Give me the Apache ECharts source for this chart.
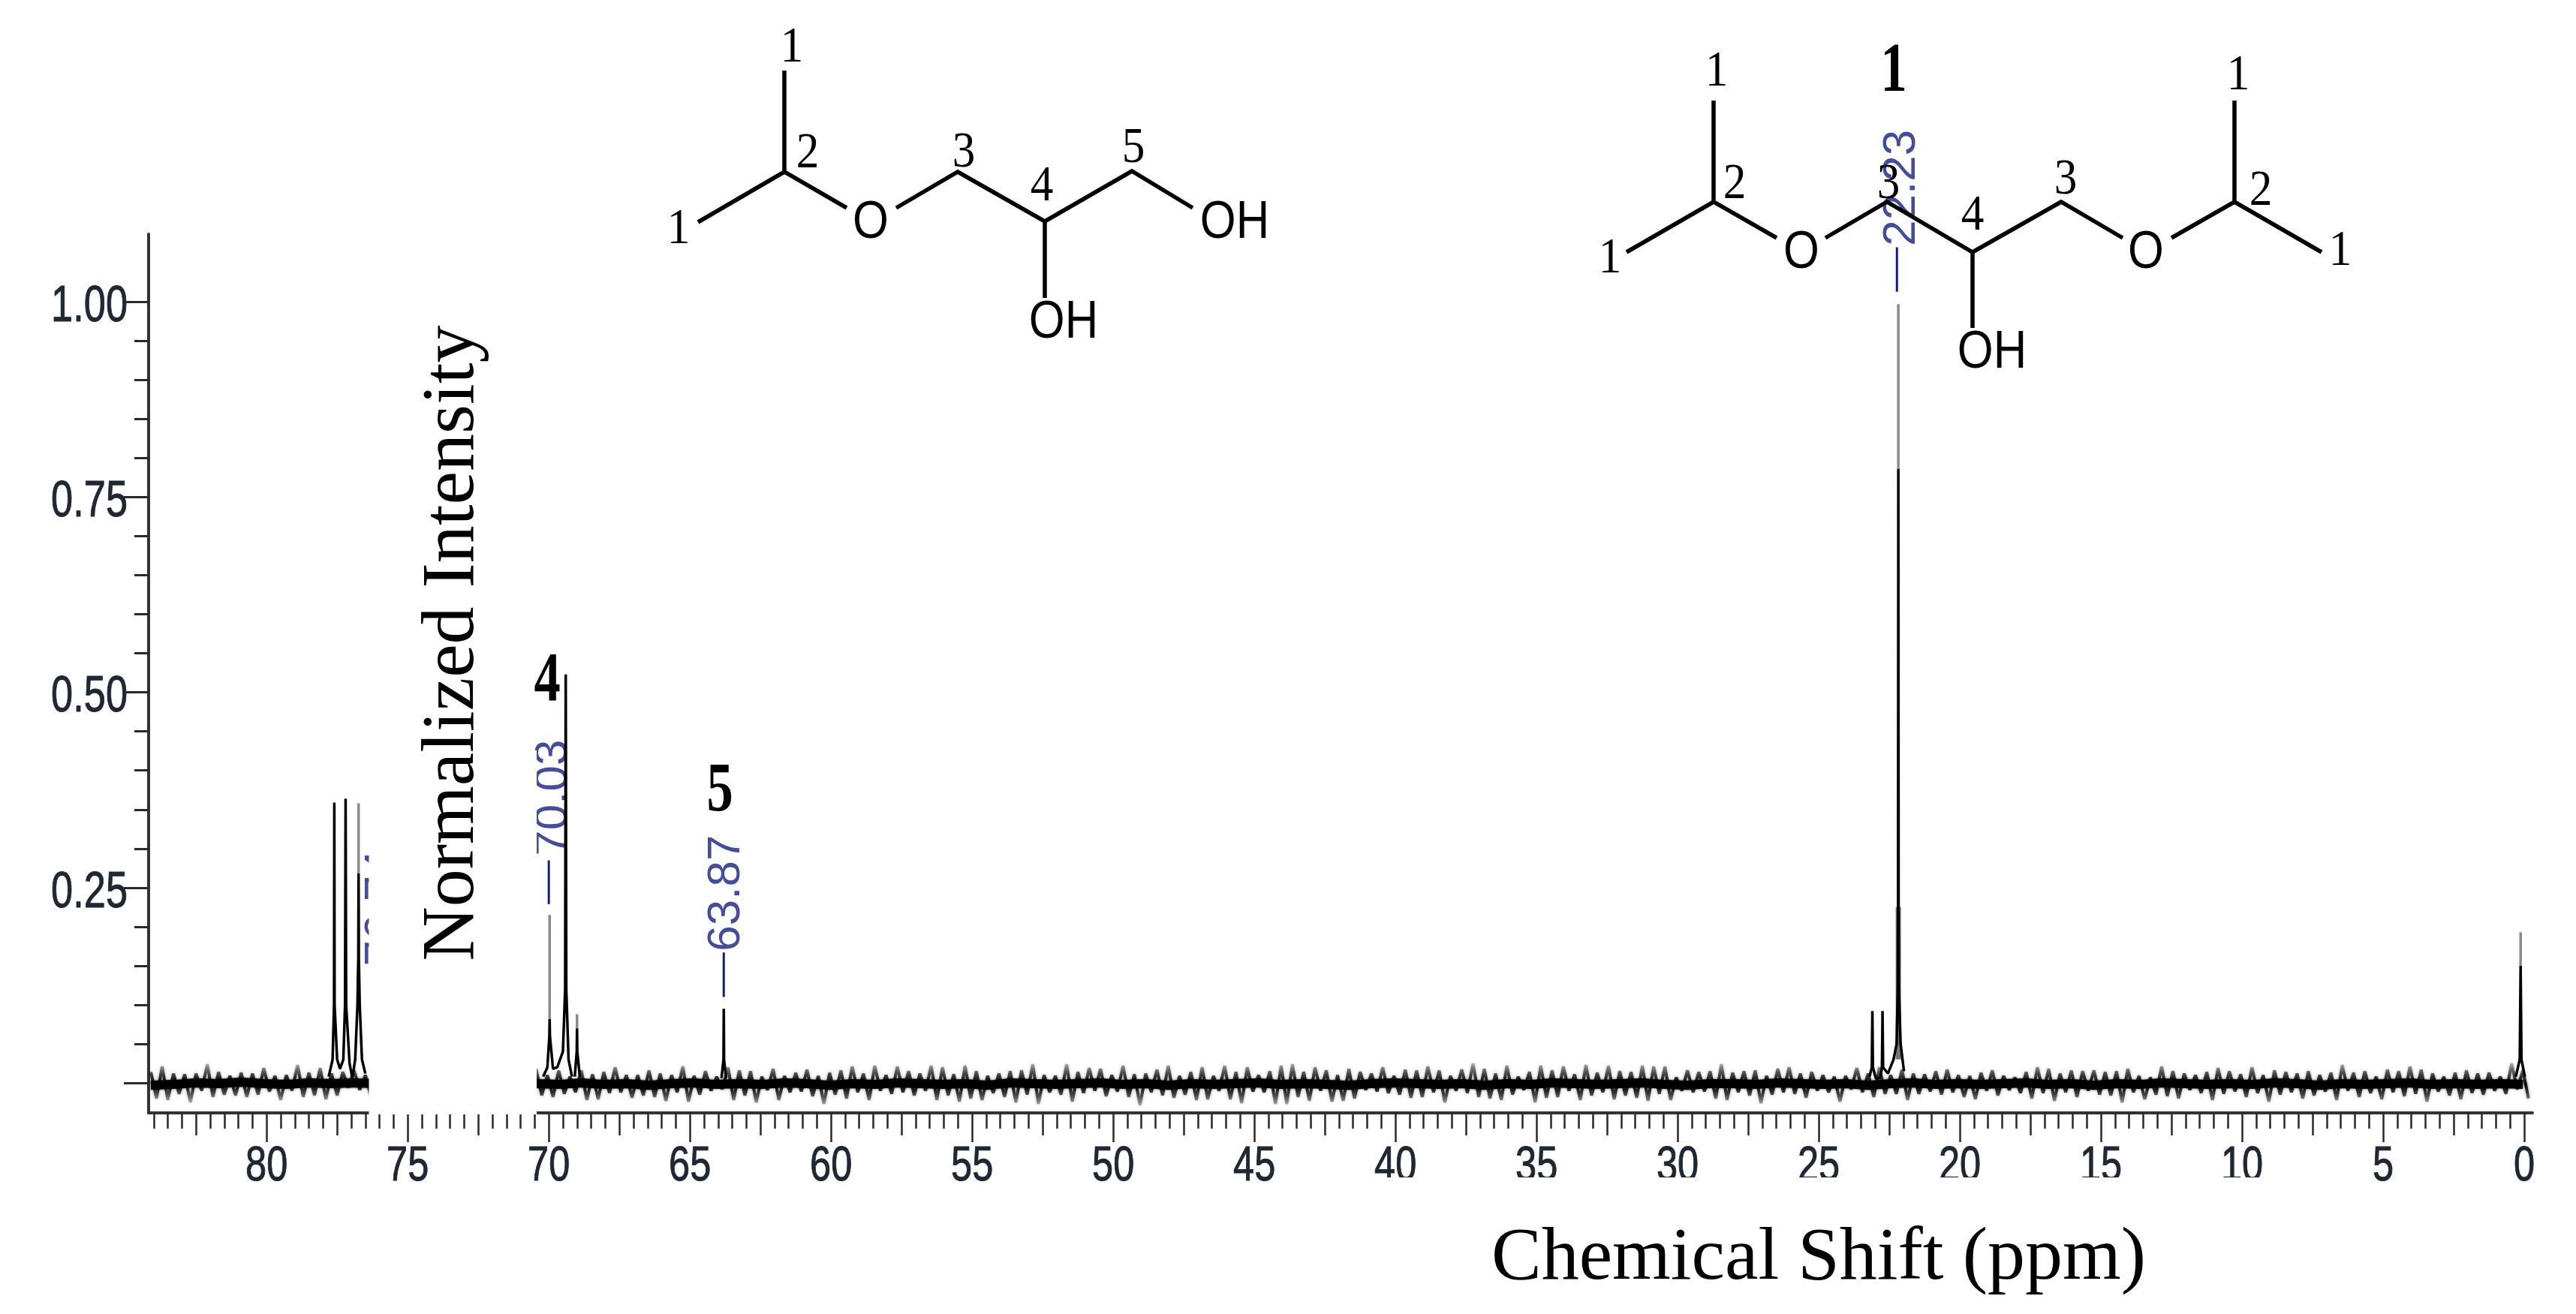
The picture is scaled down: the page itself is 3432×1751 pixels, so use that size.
<!DOCTYPE html>
<html>
<head>
<meta charset="utf-8">
<title>Chemical shift spectrum</title>
<style>
  html, body { margin: 0; padding: 0; background: #fff; }
  #chart { width: 3432px; height: 1751px; }
</style>
<script src="https://cdn.jsdelivr.net/npm/echarts@6/dist/echarts.min.js"></script>
</head>
<body>
<div id="chart"></div>
<script>
// axis ticks and labels
const xTickLabels = [80, 75, 70, 65, 60, 55, 50, 45, 40, 35, 30, 25, 20, 15, 10, 5, 0];
const xMidTicks = [82.5, 77.5, 72.5, 67.5, 62.5, 57.5, 52.5, 47.5, 42.5, 37.5, 32.5, 27.5, 22.5, 17.5, 12.5, 7.5, 2.5];
const yTickLabels = [0.25, 0.5, 0.75, 1];
const yMajorTicks = [0, 0.25, 0.5, 0.75, 1];
const yMinorTicks = [0.05, 0.1, 0.15, 0.2, 0.3, 0.35, 0.4, 0.45, 0.55, 0.6, 0.65, 0.7, 0.8, 0.85, 0.9, 0.95];

// baseline noise, in thousandths of intensity
// A: left of the pasted white box, B: right of it
const noiseTopA = [14, 21, 12, 11, 12, 24, 14, 9, 13, 12, 19, 9, 10, 23, 13, 19, 12, 14, 16, 10];
const noiseBottomA = [20, 22, 14, 25, 10, 18, 15, 16, 18, 15, 11, 22, 10, 18, 16, 21, 16, 6, 9, 17];
const noiseTopB = [
  18, 10, 16, 8, 16, 11, 14, 20, 10, 10, 16, 12, 10, 21, 9, 15, 8, 20, 16, 15,
  8, 18, 9, 13, 17, 9, 13, 16, 21, 12, 22, 10, 21, 15, 12, 22, 20, 11, 22, 15,
  9, 12, 15, 16, 24, 10, 9, 24, 14, 19, 18, 10, 22, 11, 12, 17, 22, 9, 14, 20,
  9, 22, 14, 20, 10, 15, 22, 24, 14, 20, 16, 10, 18, 14, 12, 20, 9, 17, 16, 21,
  16, 9, 17, 25, 18, 12, 22, 8, 14, 22, 16, 21, 11, 23, 13, 22, 15, 14, 22, 21,
  21, 7, 16, 14, 15, 24, 13, 15, 16, 9, 18, 20, 12, 14, 10, 8, 9, 19, 12, 20,
  10, 17, 12, 11, 15, 17, 10, 9, 13, 16, 9, 7, 14, 20, 18, 12, 16, 15, 16, 14,
  15, 18, 9, 7, 21, 15, 12, 10, 14, 19, 15, 11, 20, 10, 16, 14, 12, 15, 10, 13,
  23, 13, 15, 8, 17, 15, 21, 17, 12, 8, 13, 16, 12, 13, 8, 25, 16
];
const noiseBottomB = [
  16, 18, 14, 12, 22, 21, 13, 12, 19, 16, 18, 23, 12, 24, 15, 10, 8, 22, 16, 25,
  9, 22, 12, 11, 17, 27, 15, 20, 12, 22, 10, 14, 12, 16, 10, 22, 16, 24, 20, 22,
  13, 18, 25, 15, 27, 12, 15, 24, 13, 10, 17, 11, 18, 29, 12, 16, 19, 15, 22, 21,
  10, 21, 26, 11, 12, 27, 27, 18, 23, 10, 24, 23, 20, 9, 11, 13, 15, 19, 18, 12,
  25, 10, 13, 18, 20, 22, 15, 9, 25, 19, 18, 10, 22, 16, 12, 21, 16, 19, 23, 14,
  22, 10, 12, 11, 20, 22, 12, 16, 26, 15, 12, 14, 19, 10, 12, 24, 8, 12, 18, 14,
  14, 22, 14, 11, 15, 12, 18, 21, 10, 16, 9, 13, 20, 13, 23, 12, 18, 10, 15, 16,
  25, 12, 21, 15, 17, 20, 9, 13, 22, 14, 11, 18, 13, 24, 15, 12, 20, 16, 11, 22,
  10, 18, 13, 21, 12, 17, 14, 24, 11, 16, 21, 13, 15, 10, 14, 8, 20
];
// solid centre of the noise band
const noiseCoreA = [-3, -2, 0, -1, 1, -1, -2, 0, -1, 0, -1];
const noiseCoreB = [
  -1, -2, 0, -2, -1, -3, -1, 0, -2, -1, -2, 0, -1, -3, -1, -2, 0, -1, -2, -1,
  -3, 0, -1, -2, -1, 0, -2, -1, -3, -1, -2, -1, 0, -2, -1, -2, -3, -1, 0, -1,
  -2, -1, -3, -1, -2, 0, -1, -2, -1, 0, -2, -3, -1, -1, -2, 0, -1, -2, -1, -3,
  -1, 0, -2, -1, -2, -1, 0, -2, -1, -3, -1, -2, 0, -1, -2, -1, -2, 0, -1, -3,
  -1, -2, -1, 0, -2, -1, -2, -1, -2
];

// resonance lines: ppm and intensity of the dark part of each line, null breaks the trace
const tracePpm = [
  77.8, 77.66, 77.61, 77.6, 77.59, 77.5, 77.4, 77.28, 77.22, 77.2, 77.18, 77.06, 76.96, 76.86, 76.78, 76.75, 76.74, 76.73, 76.7, 76.62, 76.5, 76.5,
  70.2, 70.05, 69.98, 69.97, 69.96, 69.85, 69.7, 69.5, 69.42, 69.4, 69.38, 69.3, 69.18, 69.18,
  69.08, 69.01, 69, 68.99, 68.9, 68.9,
  63.88, 63.81, 63.8, 63.79, 63.72, 63.72,
  23.2, 23.12, 23.1, 23.08, 22.98, 22.82, 22.76, 22.74, 22.72, 22.55, 22.35, 22.24, 22.2, 22.19, 22.18, 22.17, 22.16, 22.1, 21.98, 21.98,
  0.3, 0.16, 0.13, 0.1, -0.02
];
const traceValue = [
  0.008, 0.03, 0.1, 0.359, 0.1, 0.03, 0.018, 0.03, 0.1, 0.364, 0.1, 0.025, 0.006, 0.03, 0.1, 0.16, 0.268, 0.16, 0.1, 0.03, 0.012, null,
  0.008, 0.02, 0.06, 0.082, 0.06, 0.018, 0.02, 0.04, 0.12, 0.523, 0.12, 0.03, 0.008, null,
  0.008, 0.04, 0.07, 0.04, 0.008, null,
  0.006, 0.03, 0.095, 0.03, 0.006, null,
  0.008, 0.02, 0.092, 0.02, 0.006, 0.006, 0.02, 0.092, 0.02, 0.012, 0.03, 0.05, 0.12, 0.23, 0.786, 0.23, 0.12, 0.05, 0.015, null,
  0.008, 0.03, 0.15, 0.03, 0.008
];
// grey tips above the dark part of the lines
const tipPpm = [76.74, 76.74, 76.74, 69.97, 69.97, 69.97, 69, 69, 69, 22.18, 22.18, 22.18, 0.13, 0.13];
const tipValue = [0.268, 0.358, null, 0.082, 0.215, null, 0.07, 0.088, null, 0.786, 0.997, null, 0.15, 0.193];
// wide grey foot of the tallest line
const footPpm = [22.18, 22.18];
const footValue = [0.03, 0.225];

// picked peak labels and their leader lines
const pickedText = ['70.03', '63.87', '22.23', '76.74'];
const pickedPpm = [69.82, 63.7, 22.03, 75.85];
const pickedValue = [0.29, 0.168, 1.071, 0.149];
const leaderPpm = [70, 70, 70, 63.8, 63.8, 63.8, 22.23, 22.23];
const leaderValue = [0.229, 0.285, null, 0.11, 0.167, null, 1.013, 1.07];

// hand drawn molecules on top of the chart
const moleculeBonds = [
  [[1045, 94], [1045, 229], [1128, 277]], [[1045, 229], [930, 296]],
  [[1194, 277], [1276, 229], [1392, 295], [1508, 228], [1589, 277]], [[1392, 295], [1392, 397]],
  [[2283, 134], [2283, 269], [2367, 317]], [[2283, 269], [2167, 336]],
  [[2432, 317], [2514, 269], [2628, 336], [2746, 269], [2828, 317]], [[2628, 336], [2628, 437]],
  [[2893, 317], [2977, 269], [3093, 336]], [[2977, 134], [2977, 269]]
];
const atomLabels = [
  ['O', 1160, 298], ['OH', 1645, 298], ['OH', 1417, 431],
  ['O', 2400, 338], ['O', 2859, 338], ['OH', 2654, 471]
];
const carbonLabels = [
  ['1', 1055, 64], ['2', 1076, 205], ['3', 1284, 204], ['4', 1388, 249], ['5', 1510, 198], ['1', 904, 306],
  ['1', 2287, 96], ['2', 2311, 246], ['3', 2516, 246], ['4', 2628, 288], ['3', 2752, 240], ['1', 2145, 345],
  ['1', 2982, 101], ['2', 3012, 255], ['1', 3118, 335]
];
const assignLabels = [['4', 729, 909], ['5', 959, 1056], ['1', 2523, 97]];

const tickColor = '#2a2a2a';
const labelColor = '#1e2733';
const pickedColor = '#14207e';

function halfPpm(from, to) {
  const out = [];
  for (let v = from; v >= to; v -= 0.5) {
    out.push(v);
  }
  return out;
}

// zigzag between the read top and bottom excursions
function fringe(tops, bottoms, start) {
  const out = [];
  tops.forEach((top, i) => {
    out.push([start - i * 0.4, top / 1000]);
    out.push([start - i * 0.4 - 0.2, -bottoms[i] / 1000]);
  });
  return out;
}

function core(values, start) {
  return values.map((v, i) => [start - i * 0.8, v / 1000]);
}

function pairs(xs, ys) {
  return xs.map((x, i) => [x, ys[i]]);
}

function xAxis(extra) {
  return Object.assign({
    type: 'value',
    inverse: true,
    min: -0.29,
    max: 84.18,
    position: 'bottom',
    splitLine: { show: false },
    axisLine: { show: false, onZero: false },
    axisLabel: { show: false }
  }, extra);
}

function yAxis(extra) {
  return Object.assign({
    type: 'value',
    min: -0.0384,
    max: 1.0867,
    position: 'left',
    splitLine: { show: false },
    axisLine: { show: false, onZero: false },
    axisLabel: { show: false }
  }, extra);
}

// spikes are black near the band and fade out to the tips
const fringeColor = new echarts.graphic.LinearGradient(0, 0, 0, 1, [
  { offset: 0, color: 'rgba(0,0,0,0.2)' },
  { offset: 0.5, color: 'rgba(0,0,0,1)' },
  { offset: 1, color: 'rgba(0,0,0,0.2)' }
]);
const fringeStyle = { color: fringeColor, width: 4, shadowBlur: 4, shadowColor: 'rgba(0,0,0,0.5)' };
const coreStyle = { color: '#000', width: 12, join: 'round', shadowBlur: 3, shadowColor: 'rgba(0,0,0,0.7)' };

const chart = echarts.init(document.getElementById('chart'), null, { renderer: 'canvas' });

chart.setOption({
  animation: false,
  backgroundColor: '#fff',
  grid: { left: 198, right: 58, top: 312, bottom: 268, containLabel: false },
  xAxis: [
    xAxis({
      axisLine: { show: true, onZero: false, lineStyle: { color: '#333', width: 4 } },
      axisTick: { length: 39, lineStyle: { color: tickColor, width: 2.5 }, customValues: xTickLabels }
    }),
    xAxis({ axisTick: { length: 30, lineStyle: { color: tickColor, width: 2.5 }, customValues: xMidTicks } }),
    xAxis({ axisTick: { length: 21, lineStyle: { color: tickColor, width: 2.5 }, customValues: halfPpm(84, 0) } })
  ],
  yAxis: [
    yAxis({
      axisLine: { show: true, onZero: false, lineStyle: { color: '#333', width: 4 } },
      axisTick: { length: 33, lineStyle: { color: tickColor, width: 3 }, customValues: yMajorTicks }
    }),
    yAxis({ axisTick: { length: 19, lineStyle: { color: tickColor, width: 3 }, customValues: yMinorTicks } })
  ],
  series: [
    { name: 'fringe A', type: 'line', showSymbol: false, silent: true, lineStyle: fringeStyle, data: fringe(noiseTopA, noiseBottomA, 84.1) },
    { name: 'fringe B', type: 'line', showSymbol: false, silent: true, lineStyle: fringeStyle, data: fringe(noiseTopB, noiseBottomB, 70.45) },
    { name: 'core A', type: 'line', showSymbol: false, silent: true, lineStyle: coreStyle, data: core(noiseCoreA, 84.1) },
    { name: 'core B', type: 'line', showSymbol: false, silent: true, lineStyle: coreStyle, data: core(noiseCoreB, 70.45) },
    {
      name: 'foot', type: 'line', showSymbol: false, silent: true,
      lineStyle: { color: '#777', width: 7 },
      data: pairs(footPpm, footValue)
    },
    {
      name: 'lines', type: 'line', showSymbol: false, silent: true,
      lineStyle: { color: '#000', width: 3.5 },
      data: pairs(tracePpm, traceValue)
    },
    {
      name: 'tips', type: 'line', showSymbol: false, silent: true,
      lineStyle: { color: '#8a8a8a', width: 3.5 },
      data: pairs(tipPpm, tipValue)
    },
    {
      name: 'leaders', type: 'line', showSymbol: false, silent: true, z: 3,
      lineStyle: { color: pickedColor, width: 3 },
      data: pairs(leaderPpm, leaderValue)
    },
    {
      name: 'picked', type: 'scatter', silent: true, symbolSize: 1, clip: false,
      itemStyle: { color: 'rgba(0,0,0,0)' },
      label: {
        show: true, position: [0, 0], rotate: 90, align: 'left', verticalAlign: 'middle',
        color: pickedColor, fontSize: 62, fontFamily: '"Liberation Sans", sans-serif',
        formatter: (p) => pickedText[p.dataIndex]
      },
      data: pairs(pickedPpm, pickedValue)
    }
  ]
});

// everything drawn over the chart: the pasted white boxes, the molecules and the squeezed text
const graphicParts = [];

// pasted white box from the reference, it hides the spectrum and part of the axis
graphicParts.push({
  type: 'rect', z: 20, silent: true,
  shape: { x: 491.5, y: 1000, width: 223.5, height: 485 },
  style: { fill: '#fff' }
});
// the reference crops the bottom of these tick labels
graphicParts.push({
  type: 'rect', z: 20, silent: true,
  shape: { x: 1760, y: 1569, width: 1330, height: 22 },
  style: { fill: '#fff' }
});

moleculeBonds.forEach((points) => {
  graphicParts.push({
    type: 'polyline', z: 30, silent: true,
    shape: { points },
    style: { stroke: '#000', lineWidth: 5.5, fill: null }
  });
});

function addText(text, x, y, font, scaleX, rotation, align, fill, z, weight) {
  graphicParts.push({
    type: 'text', z: z || 30, silent: true,
    x, y, scaleX: scaleX || 1, rotation: rotation || 0,
    style: {
      text, font, fill: fill || '#000', align: align || 'center', verticalAlign: 'middle',
      stroke: weight ? fill : null, lineWidth: weight || 0
    }
  });
}

atomLabels.forEach((a) => addText(a[0], a[1], a[2], '70px "Liberation Sans", sans-serif', 0.88));
carbonLabels.forEach((a) => addText(a[0], a[1], a[2], '68px "Liberation Serif", serif', 0.9));
assignLabels.forEach((a) => addText(a[0], a[1], a[2], 'bold 94px "Liberation Serif", serif', 0.75));
addText('Normalized Intensity', 604, 857, '100px "Liberation Serif", serif', 1, Math.PI / 2);
addText('Chemical Shift (ppm)', 2423, 1678, '100px "Liberation Serif", serif', 1);

// tick labels go through the axis scales, squeezed like the narrow digits in the picture
xTickLabels.forEach((v) => {
  const x = chart.convertToPixel({ xAxisIndex: 0 }, v);
  addText(String(v), x, 1555, '64px "Liberation Sans", sans-serif', 0.79, 0, 'center', labelColor, 15, 1);
});
yTickLabels.forEach((v) => {
  const y = chart.convertToPixel({ yAxisIndex: 0 }, v);
  addText(v.toFixed(2), 170, y + 7, '68px "Liberation Sans", sans-serif', 0.77, 0, 'right', labelColor, 15, 1);
});

chart.setOption({ graphic: { elements: graphicParts } });
</script>
</body>
</html>
